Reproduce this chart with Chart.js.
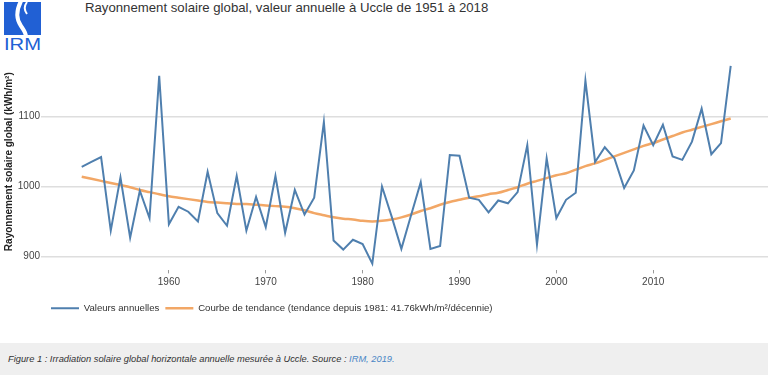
<!DOCTYPE html>
<html>
<head>
<meta charset="utf-8">
<script src="https://cdn.jsdelivr.net/npm/chart.js@4/dist/chart.umd.min.js"></script>
<style>
  html, body { margin: 0; padding: 0; background: #fff; }
  body { width: 768px; height: 375px; position: relative; overflow: hidden; font-family: "Liberation Sans", Arial, sans-serif; }
  #logo { position: absolute; left: 0; top: 0; }
  #title { position: absolute; left: 85px; top: 0px; font-size: 13.2px; color: #333; line-height: 16px; }
  #wrap { position: absolute; left: 0; top: 0; width: 768px; height: 340px; }
  #caption {
    position: absolute; left: 0; top: 343px; width: 768px; height: 32px;
    background: #efefef; font-size: 9.3px; font-style: italic; color: #333;
    line-height: 32px; padding-left: 8px; box-sizing: border-box;
  }
  #caption span { color: #4a86c5; }
</style>
</head>
<body>
<svg id="logo" width="46" height="54">
  <rect x="4" y="2" width="37" height="33" fill="#2160d4"/>
  <path d="M21 1 C16 11, 16 19, 21 26 S 25 33, 26 36" stroke="#fff" stroke-width="4" fill="none"/>
  <path d="M27 2 C24 6, 24 10, 27 14" stroke="#fff" stroke-width="2" fill="none"/>
  <text x="4" y="50" textLength="37" lengthAdjust="spacingAndGlyphs" font-size="16" fill="#2160d4" font-family="Liberation Sans">IRM</text>
</svg>
<div id="title">Rayonnement solaire global, valeur annuelle à Uccle de 1951 à 2018</div>
<div id="wrap"><canvas id="chart"></canvas></div>
<div id="caption">Figure 1 : Irradiation solaire global horizontale annuelle mesurée à Uccle. Source : <span>IRM, 2019.</span></div>

<script>
// Annual global solar radiation at Uccle (kWh/m²), 1951 - 2018
const firstYear = 1951;
const annualValues = [
  1028, 1035, 1042, 937, 1013, 927, 994, 955, 1158, 946,
  971, 964, 950, 1021, 962, 944, 1015, 937, 985, 942,
  1015, 934, 995, 960, 984, 1092, 923, 910, 924, 918,
  890, 1000, 957, 911, 959, 1006, 911, 915, 1045, 1044,
  984, 981, 963, 980, 976, 992, 1059, 917, 1040, 955,
  981, 991, 1151, 1035, 1056, 1040, 998, 1023, 1087, 1059,
  1088, 1043, 1038, 1064, 1111, 1046, 1062, 1172
];
const trendValues = [
  1014, 1011, 1008, 1005, 1002, 999, 995, 992, 989, 986,
  984, 982, 980, 978, 977, 976, 975, 975, 974, 973,
  972, 971, 969, 966, 962, 959, 956, 954, 953, 951,
  950, 951, 953, 956, 960, 965, 969, 974, 978, 981,
  984, 986, 989, 991, 995, 999, 1004, 1008, 1012, 1016,
  1019, 1024, 1029, 1033, 1038, 1043, 1048, 1053, 1058, 1062,
  1067, 1072, 1077, 1081, 1085, 1089, 1093, 1097
];
const years = annualValues.map((_, i) => firstYear + i);
const xTicks = [1960, 1970, 1980, 1990, 2000, 2010];
const yTicks = [900, 1000, 1100];
const seriesNames = ['Valeurs annuelles', 'Courbe de tendance (tendance depuis 1981: 41.76kWh/m²/décennie)'];

const blue = '#4f7fae';
const orange = '#f2a766';

const ctx = document.getElementById('chart').getContext('2d');
new Chart(ctx, {
  type: 'line',
  data: {
    datasets: [{
      label: seriesNames[0],
      data: years.map((y, i) => ({ x: y, y: annualValues[i] })),
      borderColor: blue,
      backgroundColor: blue,
      borderWidth: 2,
      pointRadius: 0,
      tension: 0
    }, {
      label: seriesNames[1],
      data: years.map((y, i) => ({ x: y, y: trendValues[i] })),
      borderColor: orange,
      backgroundColor: orange,
      borderWidth: 2.5,
      pointRadius: 0,
      cubicInterpolationMode: 'monotone'
    }]
  },
  options: {
    responsive: true,
    maintainAspectRatio: false,
    animation: false,
    layout: { padding: { top: 53, bottom: 17, left: 0, right: 0 } },
    plugins: {
      legend: {
        position: 'bottom',
        align: 'start',
        fullSize: false,
        labels: {
          usePointStyle: true,
          pointStyle: 'line',
          pointStyleWidth: 28,
          boxHeight: 10,
          padding: 6,
          color: '#333',
          font: { family: 'Liberation Sans', size: 9.6 }
        }
      },
      tooltip: { enabled: false }
    },
    scales: {
      x: {
        type: 'linear',
        min: 1947.21,
        max: 2021.85,
        afterBuildTicks: scale => { scale.ticks = xTicks.map(v => ({ value: v })); },
        afterFit: scale => { scale.height = 27; },
        border: { display: false },
        grid: { drawOnChartArea: false, drawTicks: true, tickLength: 3, color: '#999' },
        ticks: {
          padding: 3,
          color: '#444',
          font: { family: 'Liberation Sans', size: 10 },
          callback: v => String(v)
        }
      },
      y: {
        min: 880.3,
        max: 1190.45,
        afterBuildTicks: scale => { scale.ticks = yTicks.map(v => ({ value: v })); },
        afterFit: scale => { scale.width = 45; },
        border: { display: false },
        grid: { color: '#dedede', lineWidth: 1.5, tickLength: 4 },
        ticks: {
          padding: 1,
          color: '#444',
          font: { family: 'Liberation Sans', size: 10 },
          callback: v => String(v)
        },
        title: {
          display: true,
          text: 'Rayonnement solaire global (kWh/m²)',
          color: '#222',
          padding: { top: 3, bottom: 0 },
          font: { family: 'Liberation Sans', size: 10, weight: 'bold' }
        }
      }
    }
  }
});
</script>
</body>
</html>
